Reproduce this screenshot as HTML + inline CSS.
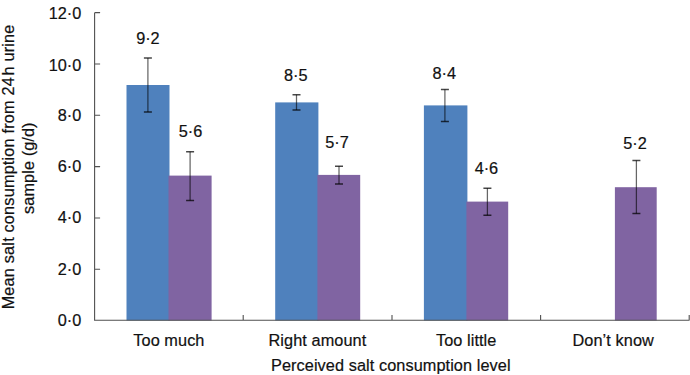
<!DOCTYPE html>
<html><head><meta charset="utf-8"><style>
html,body{margin:0;padding:0;background:#fff;overflow:hidden;}
svg{display:block;}
text{font-family:"Liberation Sans",sans-serif;font-size:16.3px;fill:#111;stroke:#111;stroke-width:0.2px;}
text.t{letter-spacing:0.08px;}
</style></head><body>
<svg width="690" height="375" viewBox="0 0 690 375">
<rect x="126.50" y="85.00" width="43.00" height="235.50" fill="#4F81BD"/>
<rect x="168.50" y="175.60" width="43.10" height="144.90" fill="#8064A2"/>
<rect x="275.20" y="102.40" width="43.20" height="218.10" fill="#4F81BD"/>
<rect x="317.40" y="174.90" width="42.80" height="145.60" fill="#8064A2"/>
<rect x="423.90" y="105.40" width="43.50" height="215.10" fill="#4F81BD"/>
<rect x="466.40" y="201.60" width="41.80" height="118.90" fill="#8064A2"/>
<rect x="614.90" y="187.20" width="41.80" height="133.30" fill="#8064A2"/>
<path d="M147.90 57.90V111.90M190.10 151.80V200.60M296.50 94.80V110.00M339.00 166.20V184.00M444.90 89.40V121.60M487.40 188.30V215.20M636.40 160.60V213.60" stroke="#000" stroke-opacity="0.6" stroke-width="1.25" fill="none"/>
<path d="M143.90 57.90H151.90M143.90 111.90H151.90M186.10 151.80H194.10M186.10 200.60H194.10M292.50 94.80H300.50M292.50 110.00H300.50M335.00 166.20H343.00M335.00 184.00H343.00M440.90 89.40H448.90M440.90 121.60H448.90M483.40 188.30H491.40M483.40 215.20H491.40M632.40 160.60H640.40M632.40 213.60H640.40" stroke="#000" stroke-opacity="0.72" stroke-width="1.5" fill="none"/>
<text x="147.90" y="43.60" text-anchor="middle">9·2</text>
<text x="190.50" y="137.30" text-anchor="middle">5·6</text>
<text x="295.80" y="80.60" text-anchor="middle">8·5</text>
<text x="337.00" y="147.70" text-anchor="middle">5·7</text>
<text x="444.20" y="78.90" text-anchor="middle">8·4</text>
<text x="486.40" y="173.60" text-anchor="middle">4·6</text>
<text x="635.00" y="149.00" text-anchor="middle">5·2</text>
<path d="M94.6 12.7V320.3H689.5M94.6 269.32H100.1M94.6 217.98H100.1M94.6 166.65H100.1M94.6 115.32H100.1M94.6 63.98H100.1M94.6 12.65H100.1M243.20 320.3V315M392.00 320.3V315M540.60 320.3V315M689.20 320.3V315" stroke="#505050" stroke-width="1.1" fill="none"/>
<text x="81.3" y="325.50" text-anchor="end">0·0</text>
<text x="81.3" y="274.67" text-anchor="end">2·0</text>
<text x="81.3" y="223.23" text-anchor="end">4·0</text>
<text x="81.3" y="171.50" text-anchor="end">6·0</text>
<text x="81.3" y="121.27" text-anchor="end">8·0</text>
<text x="81.3" y="70.63" text-anchor="end">10·0</text>
<text x="81.3" y="18.70" text-anchor="end">12·0</text>
<text x="168.90" y="345.7" class="t" text-anchor="middle">Too much</text>
<text x="317.40" y="345.7" class="t" text-anchor="middle">Right amount</text>
<text x="466.20" y="345.7" class="t" text-anchor="middle">Too little</text>
<text x="613.20" y="345.7" class="t" text-anchor="middle">Don’t know</text>
<text class="t" x="390.8" y="371.1" text-anchor="middle">Perceived salt consumption level</text>
<text class="t" style="letter-spacing:0.18px" transform="translate(14.1 166.9) rotate(-90)" text-anchor="middle">Mean salt consumption from 24&#8202;h urine</text>
<text class="t" transform="translate(34.1 168.2) rotate(-90)" text-anchor="middle">sample (g/d)</text>
</svg>
</body></html>
